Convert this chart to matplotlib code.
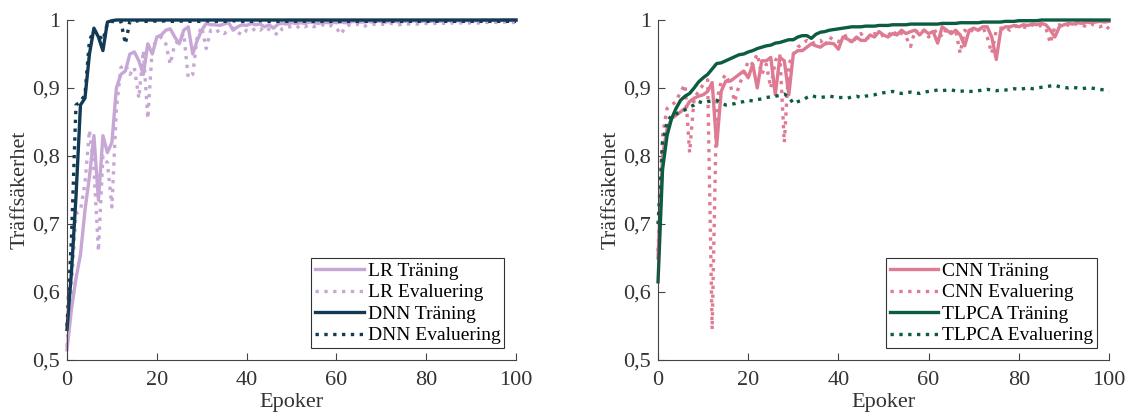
import matplotlib.pyplot as plt
import numpy as np

# epochs 0..100
epochs = np.arange(101)

lr_train = [
    0.515, 0.575, 0.62, 0.655, 0.72, 0.77, 0.83, 0.735, 0.83, 0.805,
    0.82, 0.90, 0.92, 0.925, 0.95, 0.953, 0.94, 0.92, 0.965, 0.95,
    0.975, 0.978, 0.985, 0.987, 0.975, 0.965, 0.985, 0.99, 0.95, 0.97,
    0.985, 0.995, 0.993, 0.993, 0.992, 0.994, 0.996, 0.985, 0.99, 0.993,
    0.992, 0.995, 0.993, 0.994, 0.99, 0.993, 0.988, 0.994, 0.995, 0.994,
    0.996, 0.995, 0.996, 0.995, 0.997, 0.996, 0.995, 0.997, 0.996, 0.997,
    0.996, 0.997, 0.996, 0.997, 0.998, 0.997, 0.997, 0.998, 0.997, 0.998,
    0.998, 0.997, 0.998, 0.998, 0.997, 0.998, 0.998, 0.999, 0.998, 0.998,
    0.999, 0.998, 0.999, 0.998, 0.999, 0.999, 0.998, 0.999, 0.999, 0.999,
    0.999, 0.999, 0.999, 1.0, 0.999, 1.0, 0.999, 1.0, 1.0, 1.0,
    1.0]
lr_eval = [
    0.52, 0.61, 0.715, 0.72, 0.76, 0.838, 0.78, 0.66, 0.80, 0.79,
    0.725, 0.87, 0.93, 0.935, 0.92, 0.93, 0.885, 0.955, 0.855, 0.96,
    0.97, 0.975, 0.965, 0.935, 0.965, 0.97, 0.98, 0.915, 0.92, 0.975,
    0.99, 0.958, 0.985, 0.982, 0.985, 0.98, 0.985, 0.988, 0.982, 0.978,
    0.985, 0.983, 0.988, 0.985, 0.99, 0.986, 0.982, 0.978, 0.988, 0.99,
    0.99, 0.988, 0.992, 0.99, 0.993, 0.99, 0.992, 0.993, 0.99, 0.992,
    0.988, 0.979, 0.99, 0.993, 0.992, 0.994, 0.99, 0.993, 0.994, 0.993,
    0.994, 0.993, 0.995, 0.994, 0.993, 0.995, 0.994, 0.995, 0.994, 0.995,
    0.995, 0.994, 0.995, 0.996, 0.995, 0.994, 0.996, 0.995, 0.996, 0.995,
    0.996, 0.995, 0.996, 0.997, 0.996, 0.997, 0.996, 0.997, 0.997, 0.996,
    0.997]
dnn_train = [
    0.545, 0.63, 0.74, 0.875, 0.885, 0.95, 0.988, 0.975, 0.955, 0.997,
    0.999, 1.0, 1.0, 1.0, 1.0, 1.0, 1.0, 1.0, 1.0, 1.0,
    1.0, 1.0, 1.0, 1.0, 1.0, 1.0, 1.0, 1.0, 1.0, 1.0,
    1.0, 1.0, 1.0, 1.0, 1.0, 1.0, 1.0, 1.0, 1.0, 1.0,
    1.0, 1.0, 1.0, 1.0, 1.0, 1.0, 1.0, 1.0, 1.0, 1.0,
    1.0, 1.0, 1.0, 1.0, 1.0, 1.0, 1.0, 1.0, 1.0, 1.0,
    1.0, 1.0, 1.0, 1.0, 1.0, 1.0, 1.0, 1.0, 1.0, 1.0,
    1.0, 1.0, 1.0, 1.0, 1.0, 1.0, 1.0, 1.0, 1.0, 1.0,
    1.0, 1.0, 1.0, 1.0, 1.0, 1.0, 1.0, 1.0, 1.0, 1.0,
    1.0, 1.0, 1.0, 1.0, 1.0, 1.0, 1.0, 1.0, 1.0, 1.0,
    1.0]
dnn_eval = [
    0.55, 0.68, 0.875, 0.88, 0.89, 0.97, 0.985, 0.978, 0.97, 0.995,
    0.998, 0.997, 0.998, 0.965, 0.998, 0.998, 0.999, 0.998, 0.998, 0.999,
    0.998, 0.998, 0.999, 0.998, 0.998, 0.998, 0.999, 0.998, 0.998, 0.998,
    0.998, 0.999, 0.998, 0.998, 0.998, 0.998, 0.998, 0.999, 0.998, 0.998,
    0.998, 0.998, 0.998, 0.999, 0.998, 0.998, 0.998, 0.998, 0.998, 0.998,
    0.998, 0.998, 0.999, 0.998, 0.998, 0.998, 0.998, 0.998, 0.998, 0.998,
    0.998, 0.998, 0.998, 0.998, 0.998, 0.998, 0.998, 0.998, 0.998, 0.998,
    0.998, 0.998, 0.998, 0.998, 0.998, 0.998, 0.998, 0.998, 0.998, 0.998,
    0.998, 0.998, 0.998, 0.998, 0.998, 0.998, 0.998, 0.998, 0.998, 0.998,
    0.998, 0.998, 0.998, 0.998, 0.998, 0.998, 0.998, 0.998, 0.998, 0.998,
    0.998]

cnn_train = [
    0.65, 0.80, 0.84, 0.855, 0.86, 0.865, 0.87, 0.88, 0.885, 0.888,
    0.89, 0.895, 0.908, 0.815, 0.895, 0.91, 0.91, 0.915, 0.92, 0.925,
    0.915, 0.935, 0.90, 0.94, 0.94, 0.945, 0.89, 0.945, 0.94, 0.89,
    0.95, 0.955, 0.955, 0.96, 0.965, 0.962, 0.96, 0.965, 0.966, 0.965,
    0.957, 0.975, 0.972, 0.968, 0.975, 0.97, 0.97, 0.978, 0.975, 0.983,
    0.978, 0.975, 0.98, 0.978, 0.985, 0.98, 0.983, 0.985, 0.978, 0.985,
    0.98, 0.983, 0.966, 0.99, 0.985, 0.98, 0.985, 0.978, 0.962, 0.985,
    0.988, 0.985, 0.99, 0.99, 0.975, 0.942, 0.985, 0.99, 0.99, 0.992,
    0.99, 0.993, 0.992, 0.994, 0.993, 0.995, 0.993, 0.985, 0.975, 0.99,
    0.993, 0.995, 0.994, 0.996, 0.995, 0.997, 0.996, 0.997, 0.998, 0.997,
    0.998]
cnn_eval = [
    0.66, 0.83, 0.87, 0.875, 0.88, 0.895, 0.905, 0.805, 0.885, 0.895,
    0.905, 0.912, 0.545, 0.88, 0.91, 0.92, 0.905, 0.88, 0.905, 0.92,
    0.94, 0.935, 0.95, 0.92, 0.935, 0.90, 0.94, 0.95, 0.82, 0.935,
    0.95, 0.96, 0.965, 0.97, 0.965, 0.968, 0.97, 0.962, 0.975, 0.97,
    0.968, 0.975, 0.978, 0.965, 0.975, 0.98, 0.972, 0.975, 0.98, 0.975,
    0.978, 0.982, 0.975, 0.985, 0.98, 0.975, 0.961, 0.985, 0.98, 0.985,
    0.975, 0.982, 0.985, 0.975, 0.988, 0.982, 0.985, 0.951, 0.985, 0.98,
    0.988, 0.985, 0.99, 0.975, 0.951, 0.985, 0.988, 0.99, 0.985, 0.99,
    0.992, 0.99, 0.988, 0.993, 0.99, 0.992, 0.988, 0.966, 0.99, 0.993,
    0.99, 0.993, 0.992, 0.995, 0.993, 0.99, 0.994, 0.992, 0.99, 0.993,
    0.987]
tlpca_train = [
    0.615, 0.78, 0.83, 0.855, 0.87, 0.882, 0.888, 0.892, 0.90, 0.909,
    0.915, 0.92, 0.928, 0.936, 0.937, 0.94, 0.943, 0.946, 0.949, 0.95,
    0.953, 0.955, 0.958, 0.96, 0.962, 0.963, 0.966, 0.967, 0.969, 0.971,
    0.971, 0.975, 0.977, 0.977, 0.973, 0.979, 0.982, 0.983, 0.985, 0.986,
    0.987, 0.988, 0.989, 0.99, 0.99, 0.99, 0.991, 0.991, 0.991, 0.992,
    0.992, 0.992, 0.993, 0.993, 0.993, 0.993, 0.994, 0.994, 0.994, 0.994,
    0.994, 0.994, 0.994, 0.995, 0.995, 0.995, 0.995, 0.996, 0.996, 0.996,
    0.996, 0.996, 0.997, 0.997, 0.997, 0.997, 0.997, 0.998, 0.998, 0.998,
    0.999, 0.999, 0.999, 0.999, 0.999, 1.0, 1.0, 1.0, 1.0, 1.0,
    1.0, 1.0, 1.0, 1.0, 1.0, 1.0, 1.0, 1.0, 1.0, 1.0,
    1.0]
tlpca_eval = [
    0.70, 0.82, 0.85, 0.86, 0.862, 0.865, 0.868, 0.872, 0.875, 0.88,
    0.878, 0.88, 0.881, 0.882, 0.878, 0.875, 0.876, 0.877, 0.879, 0.88,
    0.882, 0.881, 0.883, 0.884, 0.886, 0.887, 0.888, 0.889, 0.891, 0.887,
    0.877, 0.88, 0.882, 0.886, 0.889, 0.887, 0.886, 0.887, 0.888, 0.887,
    0.886, 0.886, 0.885, 0.887, 0.888, 0.886, 0.888, 0.889, 0.89, 0.892,
    0.893, 0.894, 0.895, 0.893, 0.892, 0.893, 0.894, 0.893, 0.892, 0.894,
    0.895, 0.896, 0.897, 0.896, 0.897, 0.897, 0.896, 0.895, 0.896, 0.895,
    0.895, 0.896, 0.897, 0.898, 0.897, 0.896, 0.897, 0.897, 0.898, 0.899,
    0.898, 0.899, 0.9, 0.899, 0.9, 0.901, 0.902, 0.903, 0.904, 0.902,
    0.901, 0.9, 0.901, 0.9, 0.899, 0.9, 0.9, 0.899, 0.898, 0.897,
    0.895]

y_ticks = [0.5, 0.6, 0.7, 0.8, 0.9, 1.0]
y_ticklabels = ['0,5', '0,6', '0,7', '0,8', '0,9', '1']
x_ticks = [0, 20, 40, 60, 80, 100]

plt.rcParams['font.family'] = ['Liberation Serif', 'DejaVu Serif']

AX_COLOR = '#444444'
TXT_COLOR = '#333333'
LW = 2.4

fig = plt.figure(figsize=(11.26, 4.16), dpi=100)
ax1 = fig.add_axes([0.0595, 0.1346, 0.3988, 0.8173])
ax2 = fig.add_axes([0.5844, 0.1346, 0.4005, 0.8173])


def style_axis(ax):
    ax.set_xlim(0, 100)
    ax.set_ylim(0.5, 1.0)
    ax.set_xticks(x_ticks)
    ax.set_yticks(y_ticks)
    ax.set_yticklabels(y_ticklabels)
    ax.spines['top'].set_visible(False)
    ax.spines['right'].set_visible(False)
    for s in ['left', 'bottom']:
        ax.spines[s].set_color(AX_COLOR)
        ax.spines[s].set_linewidth(0.8)
    ax.tick_params(direction='in', length=5, width=0.8, colors=AX_COLOR,
                   labelcolor=TXT_COLOR, labelsize=16)
    ax.tick_params(axis='x', pad=8)
    ax.tick_params(axis='y', pad=5)
    ax.set_xlabel('Epoker', color=TXT_COLOR, fontsize=16, labelpad=2)
    ax.set_ylabel('Träffsäkerhet', color=TXT_COLOR, fontsize=16, labelpad=2)
    leg = ax.legend(loc='lower right', fontsize=14, frameon=True, fancybox=False,
                    edgecolor=TXT_COLOR, framealpha=1, borderaxespad=0.6,
                    handlelength=2.5, handletextpad=0.2, labelspacing=0.2,
                    borderpad=0.2)
    leg.get_frame().set_linewidth(0.8)


# Left: LR and DNN
ax1.plot(epochs, lr_train, '-', color='#c6a7d5', lw=LW, label='LR Träning', clip_on=False)
ax1.plot(epochs, lr_eval, ':', color='#c6a7d5', lw=LW, label='LR Evaluering', clip_on=False)
ax1.plot(epochs, dnn_train, '-', color='#123a55', lw=LW, label='DNN Träning', clip_on=False)
ax1.plot(epochs, dnn_eval, ':', color='#123a55', lw=LW, label='DNN Evaluering', clip_on=False)
style_axis(ax1)

# Right: CNN and TLPCA
ax2.plot(epochs, cnn_train, '-', color='#df7a93', lw=LW, label='CNN Träning', clip_on=False)
ax2.plot(epochs, cnn_eval, ':', color='#df7a93', lw=LW, label='CNN Evaluering', clip_on=False)
ax2.plot(epochs, tlpca_train, '-', color='#0b5c40', lw=LW, label='TLPCA Träning', clip_on=False)
ax2.plot(epochs, tlpca_eval, ':', color='#0b5c40', lw=LW, label='TLPCA Evaluering', clip_on=False)
style_axis(ax2)

fig.savefig('out.png', dpi=100)
plt.close(fig)
